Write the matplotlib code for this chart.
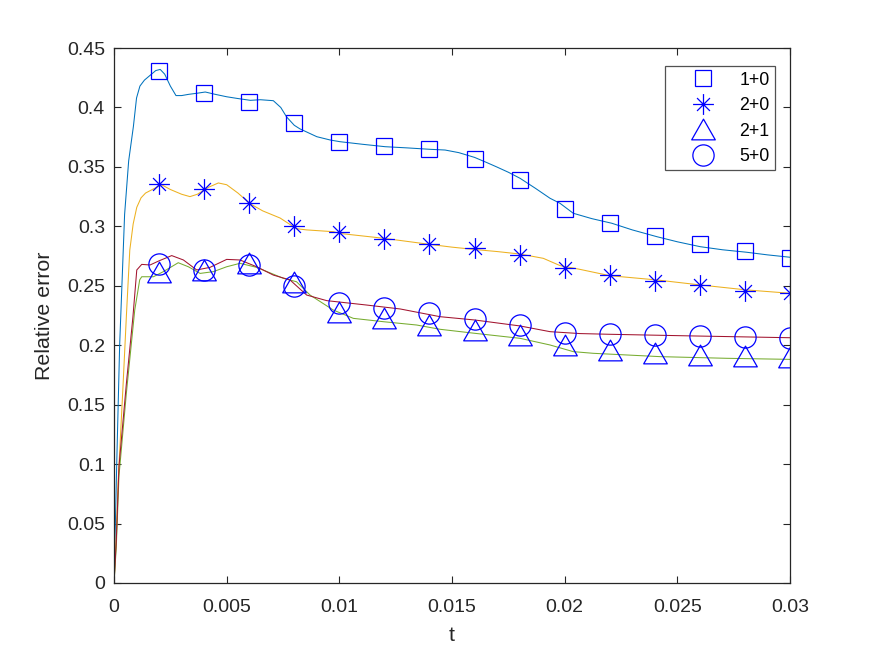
import matplotlib
matplotlib.use("Agg")
import matplotlib.pyplot as plt
from matplotlib.path import Path
import numpy as np

plt.rcParams['font.family'] = ['Liberation Sans', 'DejaVu Sans']

# ---- continuous curves ----
t_blue = [0, 0.00012, 0.00025, 0.00047, 0.00065, 0.00086, 0.00100, 0.00115, 0.00135, 0.00160,
          0.00185, 0.00205, 0.00225, 0.00250, 0.00275, 0.00300, 0.00330, 0.00370, 0.00405, 0.00450,
          0.00500, 0.00550, 0.00605, 0.00650, 0.00707, 0.00740, 0.00766, 0.00800, 0.00825, 0.00900,
          0.00960, 0.01003, 0.01104, 0.01203, 0.01300, 0.01402, 0.01469, 0.01530, 0.01600, 0.01650,
          0.01698, 0.01750, 0.01802, 0.01870, 0.01935, 0.01979, 0.02038, 0.02120, 0.02209, 0.02300,
          0.02409, 0.02500, 0.02601, 0.02700, 0.02808, 0.02900, 0.03000]
y_blue = [0, 0.100, 0.200, 0.310, 0.355, 0.384, 0.408, 0.418, 0.423, 0.427,
          0.431, 0.432, 0.428, 0.418, 0.410, 0.410, 0.411, 0.412, 0.413, 0.411,
          0.409, 0.4075, 0.406, 0.4065, 0.4057, 0.400, 0.392, 0.385, 0.382, 0.3754,
          0.3726, 0.3712, 0.3690, 0.3670, 0.3660, 0.3648, 0.3642, 0.3620, 0.3580, 0.3540,
          0.3500, 0.3455, 0.3404, 0.3320, 0.3236, 0.3194, 0.3110, 0.3065, 0.3026, 0.2970,
          0.2913, 0.2870, 0.2829, 0.2803, 0.2782, 0.2760, 0.2740]

t_orange = [0, 0.0001, 0.00018, 0.00039, 0.00055, 0.0007, 0.00085, 0.00101, 0.0012, 0.0014,
            0.0017, 0.00211, 0.0025, 0.0030, 0.00337, 0.0037, 0.00421, 0.00463, 0.0050, 0.0055,
            0.00604, 0.0066, 0.00737, 0.0081, 0.00855, 0.00973, 0.01003, 0.01195, 0.01402, 0.0150,
            0.01602, 0.0170, 0.01802, 0.01905, 0.01979, 0.02068, 0.0220, 0.02409, 0.02601, 0.02808,
            0.0300]
y_orange = [0, 0.040, 0.084, 0.162, 0.225, 0.280, 0.302, 0.316, 0.324, 0.328,
            0.331, 0.335, 0.331, 0.327, 0.325, 0.327, 0.333, 0.3365, 0.335, 0.328,
            0.319, 0.313, 0.307, 0.298, 0.297, 0.2955, 0.294, 0.290, 0.2848, 0.2825,
            0.2805, 0.2788, 0.2767, 0.2731, 0.2670, 0.2638, 0.2585, 0.2549, 0.2507, 0.2465,
            0.2437]

t_red = [0, 0.0001, 0.00022, 0.00055, 0.00084, 0.00101, 0.00123, 0.0016, 0.0020, 0.00256,
         0.00308, 0.00367, 0.00426, 0.0050, 0.00559, 0.00633, 0.00707, 0.00781, 0.00855, 0.00944,
         0.01121, 0.0127, 0.01447, 0.01602, 0.01802, 0.01935, 0.02068, 0.0220, 0.02571, 0.0300]
y_red = [0, 0.035, 0.098, 0.168, 0.224, 0.2633, 0.268, 0.2675, 0.271, 0.2754,
         0.2717, 0.2633, 0.2655, 0.2722, 0.2717, 0.266, 0.259, 0.2549, 0.2422, 0.2375,
         0.2338, 0.2305, 0.224, 0.2212, 0.2162, 0.2114, 0.2098, 0.2092, 0.2078, 0.2063]

t_green = [0, 0.0001, 0.00022, 0.00055, 0.00092, 0.00114, 0.00123, 0.00175, 0.0022, 0.00285,
           0.0033, 0.00382, 0.00441, 0.0050, 0.00559, 0.00633, 0.00751, 0.0081, 0.0087, 0.00973,
           0.01062, 0.01195, 0.01343, 0.01447, 0.01602, 0.01802, 0.01935, 0.02038, 0.02127, 0.02423,
           0.02719, 0.0300]
y_green = [0, 0.030, 0.090, 0.160, 0.2296, 0.255, 0.2576, 0.2576, 0.262, 0.2694,
           0.266, 0.2604, 0.2619, 0.266, 0.2689, 0.2655, 0.2563, 0.2534, 0.2422, 0.2296,
           0.2226, 0.2198, 0.217, 0.2134, 0.210, 0.2058, 0.2002, 0.1946, 0.1932, 0.1904,
           0.189, 0.1881]

# ---- marker series ----
t_mark = [0.002, 0.004, 0.006, 0.008, 0.010, 0.012, 0.014, 0.016, 0.018, 0.020,
          0.022, 0.024, 0.026, 0.028, 0.030]
m_10 = [0.431, 0.412, 0.405, 0.387, 0.371, 0.3676, 0.365, 0.357, 0.339, 0.315,
        0.303, 0.292, 0.285, 0.279, 0.273]
m_20 = [0.3356, 0.331, 0.3196, 0.300, 0.295, 0.289, 0.285, 0.282, 0.276, 0.265,
        0.259, 0.254, 0.251, 0.246, 0.244]
m_21 = [0.262, 0.263, 0.269, 0.253, 0.228, 0.223, 0.217, 0.213, 0.209, 0.200,
        0.196, 0.1935, 0.192, 0.191, 0.190]
m_50 = [0.268, 0.263, 0.2675, 0.250, 0.2355, 0.2313, 0.227, 0.222, 0.217, 0.210,
        0.2095, 0.2086, 0.2078, 0.207, 0.206]
labels = ['1+0', '2+0', '2+1', '5+0']

xticks = [0, 0.005, 0.01, 0.015, 0.02, 0.025, 0.03]
xticklabels = ['0', '0.005', '0.01', '0.015', '0.02', '0.025', '0.03']
yticks = [0, 0.05, 0.1, 0.15, 0.2, 0.25, 0.3, 0.35, 0.4, 0.45]
yticklabels = ['0', '0.05', '0.1', '0.15', '0.2', '0.25', '0.3', '0.35', '0.4', '0.45']

# custom markers (MATLAB-like)
tri = Path([(-1.14, -1), (1.14, -1), (0, 1), (-1.14, -1)],
           [Path.MOVETO, Path.LINETO, Path.LINETO, Path.CLOSEPOLY])
d = 0.62
star = Path([(0, -1), (0, 1), (-1, 0), (1, 0), (-d, -d), (d, d), (-d, d), (d, -d)],
            [Path.MOVETO, Path.LINETO] * 4)

fig = plt.figure(figsize=(8.75, 6.56), dpi=100)
ax = fig.add_axes([0.1303, 0.1113, 0.7726, 0.8155])

lw = 0.75
ax.plot(t_blue, y_blue, color='#0072BD', lw=lw)
ax.plot(t_orange, y_orange, color='#EDB120', lw=lw)
ax.plot(t_green, y_green, color='#77AC30', lw=lw)
ax.plot(t_red, y_red, color='#A2142F', lw=lw)

mew = 0.9
h1, = ax.plot(t_mark, m_10, ls='none', marker='s', ms=11, mfc='none', mec='b', mew=mew, label=labels[0])
h2, = ax.plot(t_mark, m_20, ls='none', marker=star, ms=15, mfc='none', mec='b', mew=mew, label=labels[1])
h3, = ax.plot(t_mark, m_21, ls='none', marker=tri, ms=17, mfc='none', mec='b', mew=mew, label=labels[2])
h4, = ax.plot(t_mark, m_50, ls='none', marker='o', ms=15.3, mfc='none', mec='b', mew=mew, label=labels[3])

ax.set_xlim(0, 0.03)
ax.set_ylim(0, 0.45)
ax.set_xticks(xticks)
ax.set_xticklabels(xticklabels)
ax.set_yticks(yticks)
ax.set_yticklabels(yticklabels)

dark = '#262626'
for s in ax.spines.values():
    s.set_color(dark)
    s.set_linewidth(0.9)
ax.tick_params(axis='both', direction='in', length=5, width=0.8, colors=dark,
               labelsize=14, top=True, right=True)
ax.tick_params(axis='x', pad=11.8)
ax.tick_params(axis='y', pad=6.5)

ax.set_xlabel('t', fontsize=15.4, color=dark, labelpad=7)
ax.set_ylabel('Relative error', fontsize=15.4, color=dark, labelpad=9.5)

leg = ax.legend(handles=[h1, h2, h3, h4], loc='upper right', bbox_to_anchor=(0.978, 0.966),
                borderaxespad=0, fontsize=12.8, frameon=True, fancybox=False,
                borderpad=0.3, labelspacing=0.48, handlelength=3.75, handletextpad=0.17,
                numpoints=1)
leg.get_frame().set_edgecolor(dark)
leg.get_frame().set_linewidth(0.9)
for txt in leg.get_texts():
    txt.set_color('black')

fig.savefig('out.png', dpi=100)
